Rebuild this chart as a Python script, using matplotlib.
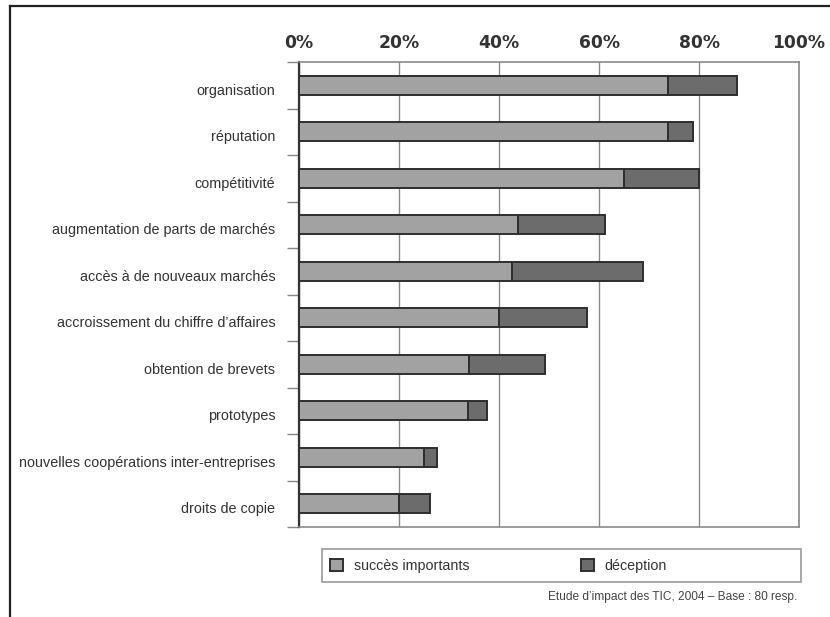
import numpy as np
import matplotlib
matplotlib.use("Agg")
import matplotlib.pyplot as plt
import matplotlib.transforms as mtransforms
from matplotlib.lines import Line2D
from matplotlib.patches import Rectangle
from matplotlib.ticker import FixedLocator, PercentFormatter

categories = [
    "organisation",
    "réputation",
    "compétitivité",
    "augmentation de parts de marchés",
    "accès à de nouveaux marchés",
    "accroissement du chiffre d\u2019affaires",
    "obtention de brevets",
    "prototypes",
    "nouvelles coopérations inter-entreprises",
    "droits de copie",
]
succes = [73.75, 73.75, 65, 43.75, 42.5, 40, 34, 33.75, 25, 20]
deception = [13.75, 5, 15, 17.5, 26.25, 17.5, 15.25, 3.75, 2.5, 6.25]
series_names = ["succès importants", "déception"]
xticks = [0, 20, 40, 60, 80, 100]

W, H = 830, 617
plt.rcParams["font.family"] = ["Liberation Sans", "DejaVu Sans"]

fig = plt.figure(figsize=(W / 100, H / 100), dpi=100)
ax = fig.add_axes([299 / W, 1 - 527 / H, (799 - 299) / W, (527 - 62) / H])

y = np.arange(len(categories))
edge = "#2e2e2e"
b1 = ax.barh(y, succes, height=0.41, color="#a2a2a2", edgecolor=edge, linewidth=1.4,
             label=series_names[0], zorder=3)
b2 = ax.barh(y, deception, left=succes, height=0.41, color="#6c6c6c", edgecolor=edge,
             linewidth=1.4, label=series_names[1], zorder=3)

ax.set_xlim(0, 100)
ax.set_ylim(len(categories) - 0.5, -0.5)

# percent ticks on top, bold
ax.xaxis.tick_top()
ax.set_xticks(xticks)
ax.xaxis.set_major_formatter(PercentFormatter(decimals=0))
ax.tick_params(axis="x", length=0, pad=7)
for t in ax.get_xticklabels():
    t.set_family("DejaVu Sans")
    t.set_fontweight("bold")
    t.set_fontsize(12.3)
    t.set_color("#333333")
ax.grid(axis="x", color="#8a8a8a", linewidth=1, zorder=0)

# categories on the left, tick marks between them
ax.set_yticks(y)
ax.set_yticklabels(categories, fontsize=10.35, color="#333333")
ax.yaxis.set_minor_locator(FixedLocator(np.arange(-0.5, len(categories), 1)))
ax.tick_params(axis="y", which="major", length=0, pad=17)
ax.tick_params(axis="y", which="minor", length=9, width=1, color="#888888")
shift = mtransforms.ScaledTranslation(0, -4 / 100, fig.dpi_scale_trans)
for t in ax.get_yticklabels():
    t.set_transform(t.get_transform() + shift)

for side in ["top", "right", "bottom"]:
    ax.spines[side].set_color("#8a8a8a")
    ax.spines[side].set_linewidth(1.2)
ax.spines["left"].set_color("#333333")
ax.spines["left"].set_linewidth(1.6)

# legend box and entries
fig.add_artist(Rectangle((322 / W, 1 - 582 / H), (801 - 322) / W, 33 / H,
                         transform=fig.transFigure, fill=False,
                         edgecolor="#9a9a9a", linewidth=1.2))
leg = fig.legend(handles=[b1, b2], labels=series_names, loc="center left",
                 bbox_to_anchor=(330 / W, 1 - 566 / H), ncol=2, frameon=False,
                 borderaxespad=0, borderpad=0, fontsize=10.3,
                 handlelength=0.9, handleheight=0.9, handletextpad=0.75,
                 columnspacing=7.8)
for t in leg.get_texts():
    t.set_color("#333333")

fig.text(797 / W, 1 - 600 / H, "Etude d\u2019impact des TIC, 2004 \u2013 Base : 80 resp.",
         ha="right", va="baseline", fontsize=8.6, color="#444444")

# outer frame (left and top only)
fig.add_artist(Line2D([10 / W, 10 / W], [0, 1 - 6 / H], color="#222222", lw=1.6))
fig.add_artist(Line2D([10 / W, 1], [1 - 6 / H, 1 - 6 / H], color="#222222", lw=1.6))

fig.savefig("out.png", dpi=100)
